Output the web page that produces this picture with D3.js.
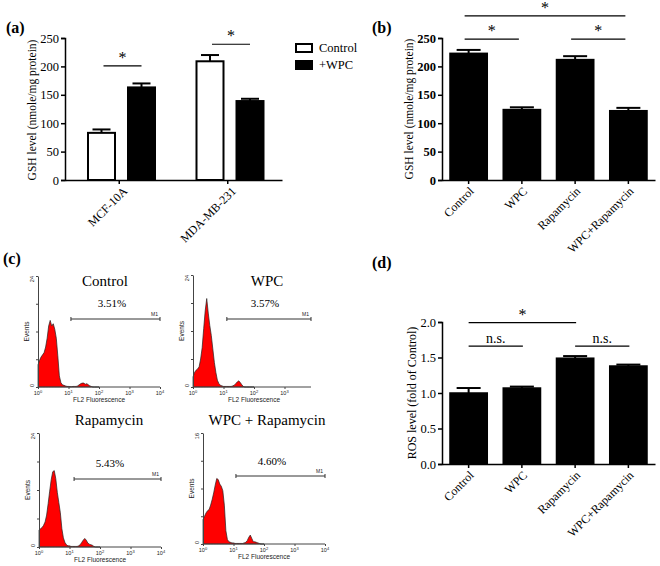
<!DOCTYPE html>
<html>
<head>
<meta charset="utf-8">
<title>GSH and ROS figure</title>
<script src="https://d3js.org/d3.v7.min.js"></script>
<style>
  body { margin: 0; background: #fff; }
  svg { font-family: "Liberation Serif", "Times New Roman", serif; }
  .axis path, .axis line { stroke: #000; stroke-width: 1.5; }
  .axis text { font-size: 12.5px; fill: #000; font-family: "Liberation Serif", serif; }
  .flow text { font-family: "Liberation Sans", Arial, sans-serif; fill: #222; }
  .flow .faxis path, .flow .faxis line { stroke: #444; stroke-width: 1; }
</style>
</head>
<body>
<svg id="fig" width="660" height="566"></svg>
<script>
// ---- data ----
// (a) GSH by cell line
const cellLines = ["MCF-10A", "MDA-MB-231"];
const gshGroups = ["Control", "+WPC"];
const gshCellMean = [[83, 163], [209, 139]];
const gshCellErr = [[6, 7], [11, 4]];

// (b) GSH by treatment, (d) ROS by treatment
const treatments = ["Control", "WPC", "Rapamycin", "WPC+Rapamycin"];
const gshTreatMean = [223, 124, 212, 122];
const gshTreatErr = [6, 4, 6, 5];
const rosMean = [1.0, 1.07, 1.49, 1.38];
const rosErr = [0.07, 0.02, 0.03, 0.02];

const gshTicks = [0, 50, 100, 150, 200, 250];
const rosTicks = [0, 0.5, 1.0, 1.5, 2.0];

// (c) flow histograms, log10 fluorescence channel vs % of axis height
const flowLog = [0, 0.05, 0.1, 0.15, 0.2, 0.25, 0.3, 0.35, 0.4, 0.45, 0.5, 0.55, 0.6, 0.65, 0.7, 0.75, 0.8, 0.85, 0.9, 0.95,
                 1.0, 1.05, 1.1, 1.15, 1.2, 1.25, 1.3, 1.35, 1.4, 1.45, 1.5, 1.55, 1.6, 1.65, 1.7, 1.75, 1.8, 1.85, 1.9, 1.95, 2.0];
const histControl = [20, 24, 27, 29, 31, 36, 44, 55, 60, 55, 57, 52, 44, 28, 10, 4, 2, 1.5, 1, 0.5,
                     0.5, 0.3, 0.3, 0.5, 0.5, 0.5, 1, 2, 3, 3.5, 3.5, 2.5, 3, 2, 1, 0.5, 0, 0, 0, 0, 0];
const histWPC = [9, 13, 15, 16, 18, 25, 35, 52, 68, 79, 66, 55, 46, 34, 22, 13, 6, 3, 1.5, 1,
                 0.5, 0.5, 0.5, 0.5, 0.5, 0.5, 1, 1.5, 3, 4.5, 5.5, 4, 2, 0.5, 0, 0, 0, 0, 0, 0, 0];
const histRapa = [15, 16, 17, 19, 22, 28, 38, 49, 59, 66, 67, 60, 48, 39, 30, 16, 8, 4, 2, 1,
                  1, 0.5, 0.5, 0.5, 0.5, 0.5, 1, 2, 4, 6, 7.5, 6, 3.5, 2.5, 2, 1.5, 0.5, 0, 0, 0, 0];
const histWPCRapa = [22, 25, 28, 30, 31, 35, 40, 46, 53, 59, 58, 54, 52, 48, 35, 12, 4, 2, 1.5, 1,
                     1, 0.5, 0.5, 0.5, 0.5, 0.5, 0.5, 1, 1.5, 3, 6, 8, 5, 2, 2, 1.5, 1, 0.5, 0, 0, 0];
const flowNames = ["Control", "WPC", "Rapamycin", "WPC + Rapamycin"];
const flowGated = ["3.51%", "3.57%", "5.43%", "4.60%"];
const gateStart = [1.08, 1.11, 1.15, 1.08];
const flowTopLabel = ["24", "24", "24", "16"];
const decades = [0, 1, 2, 3, 4];

const svg = d3.select("#fig");

// rotated category labels under an axis
function rotLabels(g, x, names, axisY, dx) {
  names.forEach(n => {
    const px = x(n) + x.bandwidth() / 2 + dx, py = axisY + 9;
    g.append("text")
      .attr("x", px).attr("y", py)
      .attr("transform", `rotate(-45, ${px}, ${py})`)
      .attr("text-anchor", "end")
      .attr("dy", "0.35em")
      .style("font-size", "12px")
      .text(n);
  });
}

function sigLine(g, x1, x2, y, label, size) {
  g.append("line").attr("x1", x1).attr("x2", x2).attr("y1", y).attr("y2", y)
    .attr("stroke", "#000").attr("stroke-width", 1.2);
  g.append("text").attr("x", (x1 + x2) / 2).attr("y", y - 3)
    .attr("text-anchor", "middle").style("font-size", size + "px").text(label);
}

function errBar(g, cx, yTop, yErr, capW) {
  g.append("line").attr("x1", cx).attr("x2", cx).attr("y1", yTop).attr("y2", yErr)
    .attr("stroke", "#000").attr("stroke-width", 2);
  g.append("line").attr("x1", cx - capW / 2).attr("x2", cx + capW / 2).attr("y1", yErr).attr("y2", yErr)
    .attr("stroke", "#000").attr("stroke-width", 2);
}

// ---- (a) ----
const ga = svg.append("g");
const ya = d3.scaleLinear().domain([0, 250]).range([180, 38]);
const xa = d3.scaleBand().domain(cellLines).range([65, 282]);
const xaSub = d3.scaleBand().domain(gshGroups).range([23, 90]).paddingInner(0.325);

ga.append("g").attr("class", "axis").attr("transform", "translate(65,0)")
  .call(d3.axisLeft(ya).tickValues(gshTicks).tickSize(4).tickPadding(2));
ga.append("g").attr("class", "axis").attr("transform", "translate(0,180)")
  .call(d3.axisBottom(xa).tickSize(4).tickFormat("").tickSizeOuter(0));

cellLines.forEach((c, i) => {
  gshGroups.forEach((s, j) => {
    const bx = xa(c) + xaSub(s), bw = xaSub.bandwidth();
    const v = gshCellMean[i][j];
    errBar(ga, bx + bw / 2, ya(v), ya(v + gshCellErr[i][j]), 18);
    ga.append("rect").attr("x", bx).attr("y", ya(v)).attr("width", bw).attr("height", ya(0) - ya(v))
      .attr("fill", j === 0 ? "#fff" : "#000").attr("stroke", "#000").attr("stroke-width", 2);
  });
});
rotLabels(ga, xa, cellLines, 180, 6);

const sigA = [[0, 201], [1, 239]];
sigA.forEach(([i, v]) => {
  const c = cellLines[i];
  sigLine(ga, xa(c) + xaSub("Control") + xaSub.bandwidth() / 2 + 2,
          xa(c) + xaSub("+WPC") + xaSub.bandwidth() / 2, ya(v), "*", 16);
});

ga.append("text").attr("transform", "translate(36,110) rotate(-90)").attr("text-anchor", "middle")
  .style("font-size", "11.5px").text("GSH level (nmole/mg protein)");

// legend
gshGroups.forEach((s, j) => {
  ga.append("rect").attr("x", 296).attr("y", 44 + j * 17).attr("width", 16).attr("height", 8)
    .attr("fill", j === 0 ? "#fff" : "#000").attr("stroke", "#000").attr("stroke-width", 2);
  ga.append("text").attr("x", 319).attr("y", 52 + j * 17).style("font-size", "12.5px").text(s);
});
svg.append("text").attr("x", 6).attr("y", 33).style("font-size", "16px").style("font-weight", "bold").text("(a)");

// ---- (b) ----
const gb = svg.append("g");
const yb = d3.scaleLinear().domain([0, 250]).range([180, 38]);
const xb = d3.scaleBand().domain(treatments).range([442, 655]).paddingInner(0.3).paddingOuter(0.15);

gb.append("g").attr("class", "axis").attr("transform", "translate(442,0)")
  .call(d3.axisLeft(yb).tickValues(gshTicks).tickSize(4).tickPadding(2))
  .selectAll("text").style("font-weight", "bold");
gb.append("g").attr("class", "axis").attr("transform", "translate(0,180)")
  .call(d3.axisBottom(xb).tickSize(4).tickFormat("").tickSizeOuter(0));

treatments.forEach((t, i) => {
  const v = gshTreatMean[i];
  errBar(gb, xb(t) + xb.bandwidth() / 2, yb(v), yb(v + gshTreatErr[i]), 24);
  gb.append("rect").attr("x", xb(t)).attr("y", yb(v)).attr("width", xb.bandwidth()).attr("height", yb(0) - yb(v))
    .attr("fill", "#000").attr("stroke", "#000").attr("stroke-width", 1.5);
});
rotLabels(gb, xb, treatments, 180, 3);

const mid = t => xb(t) + xb.bandwidth() / 2;
const sigB = [[0, 3, 289], [0, 1, 248], [2, 3, 248]];
sigB.forEach(([a, b, v]) => sigLine(gb, mid(treatments[a]) - 4, mid(treatments[b]) - 3, yb(v), "*", 16));

gb.append("text").attr("transform", "translate(413,109) rotate(-90)").attr("text-anchor", "middle")
  .style("font-size", "11.5px").text("GSH level (nmole/mg protein)");
svg.append("text").attr("x", 372).attr("y", 33).style("font-size", "16px").style("font-weight", "bold").text("(b)");

// ---- (d) ----
const gd = svg.append("g");
const yd = d3.scaleLinear().domain([0, 2]).range([464, 322]);

gd.append("g").attr("class", "axis").attr("transform", "translate(442,0)")
  .call(d3.axisLeft(yd).tickValues(rosTicks).tickFormat(d3.format(".1f")).tickSize(4).tickPadding(2));
gd.append("g").attr("class", "axis").attr("transform", "translate(0,464)")
  .call(d3.axisBottom(xb).tickSize(4).tickFormat("").tickSizeOuter(0));

treatments.forEach((t, i) => {
  const v = rosMean[i];
  errBar(gd, mid(t), yd(v), yd(v + rosErr[i]), 24);
  gd.append("rect").attr("x", xb(t)).attr("y", yd(v)).attr("width", xb.bandwidth()).attr("height", yd(0) - yd(v))
    .attr("fill", "#000").attr("stroke", "#000").attr("stroke-width", 1.5);
});
rotLabels(gd, xb, treatments, 464, 3);

const sigD = [[0, 2, 1.99, "*", 16], [0, 1, 1.66, "n.s.", 14], [2, 3, 1.66, "n.s.", 14]];
sigD.forEach(([a, b, v, lab, sz]) => sigLine(gd, mid(treatments[a]), mid(treatments[b]) + 1, yd(v), lab, sz));

gd.append("text").attr("transform", "translate(416,393) rotate(-90)").attr("text-anchor", "middle")
  .style("font-size", "12px").text("ROS level (fold of Control)");
svg.append("text").attr("x", 372).attr("y", 268).style("font-size", "16px").style("font-weight", "bold").text("(d)");

// ---- (c) flow cytometry ----
svg.append("text").attr("x", 3).attr("y", 264).style("font-size", "16px").style("font-weight", "bold").text("(c)");

const flowSeries = [histControl, histWPC, histRapa, histWPCRapa];
const flowLayout = [
  {x0: 38, y0: 276, y1: 387, xEnd: 160, tx: 105, ty: 286, px: 112, py: 307, gy: 319},
  {x0: 193, y0: 275, y1: 387, xEnd: 311, tx: 267, ty: 286, px: 265, py: 307, gy: 319},
  {x0: 39, y0: 433, y1: 547, xEnd: 161, tx: 109, ty: 425, px: 110, py: 467, gy: 479},
  {x0: 203, y0: 433, y1: 544, xEnd: 325, tx: 267, ty: 425, px: 272, py: 465, gy: 476}
];

flowLayout.forEach((L, k) => {
  const g = svg.append("g").attr("class", "flow");
  const x = d3.scaleLinear().domain([0, 4]).range([L.x0, L.x0 + 122]);
  const y = d3.scaleLinear().domain([0, 100]).range([L.y1, L.y0]);
  const pts = flowLog.map((l, i) => [l, flowSeries[k][i]]);

  g.append("path").datum(pts)
    .attr("d", d3.area().x(d => x(d[0])).y0(L.y1).y1(d => y(d[1])))
    .attr("fill", "#ff0000").attr("stroke", "#222").attr("stroke-width", 0.7);

  const maxDec = x.invert(L.xEnd);
  g.append("g").attr("class", "faxis").attr("transform", `translate(0,${L.y1})`)
    .call(d3.axisBottom(x).tickValues(decades.filter(d => d <= maxDec + 0.01)).tickSize(2).tickFormat(""))
    .call(a => a.select(".domain").attr("d", `M${L.x0},0H${L.xEnd}`));
  g.append("g").attr("class", "faxis").attr("transform", `translate(${L.x0},0)`)
    .call(d3.axisLeft(y).tickValues([0, 25, 50, 75, 100]).tickSize(2).tickFormat("").tickSizeOuter(0));

  decades.filter(d => d <= maxDec + 0.01).forEach(d => {
    const t = g.append("text").attr("x", x(d)).attr("y", L.y1 + 8).attr("text-anchor", "middle")
      .style("font-size", "5.5px").text("10");
    t.append("tspan").attr("dy", "-2").style("font-size", "4px").text(d);
  });
  [[0, "0"], [100, flowTopLabel[k]]].forEach(([v, lab]) => {
    g.append("text").attr("transform", `translate(${L.x0 - 4},${y(v)}) rotate(-90)`)
      .attr("text-anchor", v === 0 ? "start" : "end").style("font-size", "5.5px").text(lab);
  });

  g.append("text").attr("x", L.x0 + 61).attr("y", L.y1 + 15).attr("text-anchor", "middle")
    .style("font-size", "6.5px").text("FL2 Fluorescence");
  g.append("text").attr("transform", `translate(${L.x0 - 9},${(L.y0 + L.y1) / 2}) rotate(-90)`)
    .attr("text-anchor", "middle").style("font-size", "6.5px").text("Events");

  // gate M1
  const gx1 = x(gateStart[k]);
  g.append("path").attr("d", `M${gx1},${L.gy - 2}V${L.gy + 2}M${gx1},${L.gy}H${L.xEnd}M${L.xEnd},${L.gy - 2}V${L.gy + 2}`)
    .attr("stroke", "#333").attr("stroke-width", 1).attr("fill", "none");
  g.append("text").attr("x", L.xEnd - 2).attr("y", L.gy - 3).attr("text-anchor", "end")
    .style("font-size", "5px").text("M1");

  g.append("text").attr("x", L.tx).attr("y", L.ty).attr("text-anchor", "middle")
    .style("font-family", "Liberation Serif, serif").style("font-size", "15px").style("fill", "#000")
    .text(flowNames[k]);
  g.append("text").attr("x", L.px).attr("y", L.py).attr("text-anchor", "middle")
    .style("font-family", "Liberation Serif, serif").style("font-size", "11px").style("fill", "#000")
    .text(flowGated[k]);
});
</script>
</body>
</html>
